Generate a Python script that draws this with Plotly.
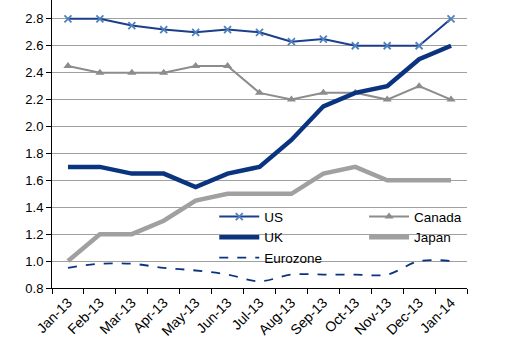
import plotly.graph_objects as go

months = ["Jan-13", "Feb-13", "Mar-13", "Apr-13", "May-13", "Jun-13", "Jul-13",
          "Aug-13", "Sep-13", "Oct-13", "Nov-13", "Dec-13", "Jan-14"]
us = [2.8, 2.8, 2.75, 2.72, 2.7, 2.72, 2.7, 2.63, 2.65, 2.6, 2.6, 2.6, 2.8]
canada = [2.45, 2.4, 2.4, 2.4, 2.45, 2.45, 2.25, 2.2, 2.25, 2.25, 2.2, 2.3, 2.2]
uk = [1.7, 1.7, 1.65, 1.65, 1.55, 1.65, 1.7, 1.9, 2.15, 2.25, 2.3, 2.5, 2.6]
japan = [1.0, 1.2, 1.2, 1.3, 1.45, 1.5, 1.5, 1.5, 1.65, 1.7, 1.6, 1.6, 1.6]
eurozone = [0.95, 0.98, 0.98, 0.95, 0.93, 0.9, 0.85, 0.9, 0.9, 0.9, 0.9, 1.0, 1.0]
y_ticks = [0.8, 1.0, 1.2, 1.4, 1.6, 1.8, 2.0, 2.2, 2.4, 2.6, 2.8]

fig = go.Figure()
fig.add_trace(go.Scatter(x=months, y=us, name="US", mode="lines+markers",
                         line=dict(color="#1B3F8B", width=2),
                         marker=dict(symbol="x-thin", size=7, color="#4F81BD",
                                     line=dict(color="#4F81BD", width=1.8)),
                         legend="legend"))
fig.add_trace(go.Scatter(x=months, y=canada, name="Canada", mode="lines+markers",
                         line=dict(color="#8C8C8C", width=2),
                         marker=dict(symbol="triangle-up", size=8, color="#8C8C8C"),
                         legend="legend2"))
fig.add_trace(go.Scatter(x=months, y=uk, name="UK", mode="lines",
                         line=dict(color="#0A347F", width=4.5),
                         legend="legend"))
fig.add_trace(go.Scatter(x=months, y=japan, name="Japan", mode="lines",
                         line=dict(color="#A0A0A0", width=4.5),
                         legend="legend2"))
fig.add_trace(go.Scatter(x=months, y=eurozone, name="Eurozone", mode="lines",
                         line=dict(color="#0A347F", width=1.8, dash="dash", shape="spline"),
                         legend="legend"))

fig.update_layout(
    width=515, height=360,
    margin=dict(l=52, r=48, t=0, b=72, autoexpand=False),
    paper_bgcolor="white", plot_bgcolor="white",
    font=dict(family="Arial", size=13, color="#000000"),
    showlegend=True,
    legend=dict(x=0.391, y=0.301, xanchor="left", yanchor="top",
                bgcolor="rgba(0,0,0,0)", font=dict(size=13.5),
                tracegroupgap=0, itemwidth=40),
    legend2=dict(x=0.752, y=0.301, xanchor="left", yanchor="top",
                 bgcolor="rgba(0,0,0,0)", font=dict(size=13.5),
                 tracegroupgap=0, itemwidth=40),
)
fig.update_xaxes(type="category", range=[-0.5, 12.5], tickson="boundaries",
                 ticks="outside", ticklen=5, tickcolor="black",
                 showline=True, linecolor="black", linewidth=1, automargin=False,
                 showgrid=False, tickangle=-45, tickfont=dict(size=14))
fig.update_yaxes(range=[0.8, 2.94], tickvals=y_ticks, tickformat=".1f",
                 ticks="outside", ticklen=5, tickcolor="black",
                 showline=True, linecolor="black", linewidth=1, automargin=False,
                 showgrid=True, gridcolor="#A0A0A0", gridwidth=1,
                 zeroline=False, tickfont=dict(size=13))

fig.write_html("out.html", config={"displayModeBar": False},
               post_script="document.body.style.margin='0';document.body.style.overflow='hidden';")
